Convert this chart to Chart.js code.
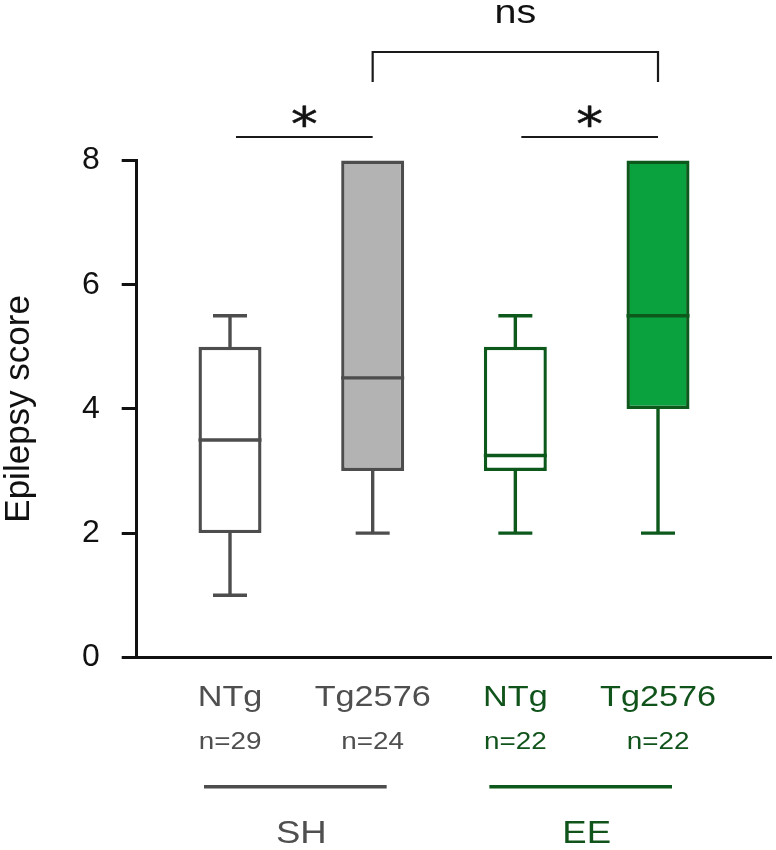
<!DOCTYPE html>
<html>
<head>
<meta charset="utf-8">
<script src="https://cdn.jsdelivr.net/npm/chart.js@4.4.1/dist/chart.umd.min.js"></script>
<style>
  html, body { margin: 0; padding: 0; background: #fff; }
  #wrap { width: 776px; height: 850px; }
</style>
</head>
<body>
<div id="wrap"><canvas id="c" width="776" height="850"></canvas></div>
<script>
// groups, left to right
var genotypes = ['NTg', 'Tg2576', 'NTg', 'Tg2576'];
var housing = ['SH', 'SH', 'EE', 'EE'];
var nCounts = [29, 24, 22, 22];

// box plot values (epilepsy score)
var whiskerLow = [1, 2, 2, 2];
var q1 = [2, 3, 3, 4];
var median = [3.5, 4.5, 3.25, 5.5];
var q3 = [5, 8, 5, 8];
var whiskerHigh = [5.5, 8, 5.5, 8];

var yTicks = [0, 2, 4, 6, 8];

// comparisons: [from box, to box, label]
var pairTests = [[0, 1, '*'], [2, 3, '*']];
var bracketTest = [1, 3, 'ns'];

var housingStyle = {
  SH: { line: '#4d4d4d', text: '#4f4f4f' },
  EE: { line: '#0d591c', text: '#11541b' }
};
var boxFill = ['#ffffff', '#b3b3b3', '#ffffff', '#09a23f'];

var FONT = '"Liberation Sans", Arial, Helvetica, sans-serif';
var STRETCH = 1.16; // labels in the figure are a bit wide
var LW = 3.4;

function wideText(ctx, text, x, y, size, color, family, heavy) {
  ctx.save();
  ctx.font = size + 'px ' + (family || FONT);
  ctx.fillStyle = color;
  ctx.textAlign = 'center';
  ctx.textBaseline = 'alphabetic';
  ctx.translate(x, y);
  ctx.scale(STRETCH, 1);
  ctx.fillText(text, 0, 0);
  if (heavy) {
    ctx.strokeStyle = color;
    ctx.lineWidth = heavy;
    ctx.lineJoin = 'round';
    ctx.strokeText(text, 0, 0);
  }
  ctx.restore();
}

function seg(ctx, x1, y1, x2, y2) {
  ctx.beginPath();
  ctx.moveTo(x1, y1);
  ctx.lineTo(x2, y2);
  ctx.stroke();
}

// whiskers, caps and medians on top of the bars
var boxParts = {
  id: 'boxParts',
  afterDatasetsDraw: function(chart) {
    var ctx = chart.ctx, ys = chart.scales.y;
    var meta = chart.getDatasetMeta(0);
    ctx.save();
    ctx.lineWidth = LW;
    for (var i = 0; i < meta.data.length; i++) {
      var bar = meta.data[i];
      var cx = bar.x, half = bar.width / 2, cap = 17;
      ctx.strokeStyle = housingStyle[housing[i]].line;
      var ym = ys.getPixelForValue(median[i]);
      seg(ctx, cx - half, ym, cx + half, ym);
      if (whiskerHigh[i] > q3[i]) {
        var yt = ys.getPixelForValue(whiskerHigh[i]);
        seg(ctx, cx, ys.getPixelForValue(q3[i]) + 1.5, cx, yt);
        seg(ctx, cx - cap, yt, cx + cap, yt);
      }
      if (whiskerLow[i] < q1[i]) {
        var yb = ys.getPixelForValue(whiskerLow[i]);
        seg(ctx, cx, ys.getPixelForValue(q1[i]) - 1.5, cx, yb);
        seg(ctx, cx - cap, yb, cx + cap, yb);
      }
    }
    ctx.restore();
  }
};

// group labels under the axis and significance marks above
var annotations = {
  id: 'annotations',
  afterDraw: function(chart) {
    var ctx = chart.ctx, xs = chart.scales.x, area = chart.chartArea;
    var px = function(i) { return xs.getPixelForValue(i + 1); };
    var i;

    for (i = 0; i < genotypes.length; i++) {
      var st = housingStyle[housing[i]];
      wideText(ctx, genotypes[i], px(i), area.bottom + 48.7, 29.5, st.text);
      wideText(ctx, 'n=' + nCounts[i], px(i), area.bottom + 91.7, 24, st.text);
    }

    // housing bars: SH / EE
    var seen = [];
    for (i = 0; i < housing.length; i++) {
      if (seen.indexOf(housing[i]) >= 0) continue;
      seen.push(housing[i]);
      var last = housing.lastIndexOf(housing[i]);
      var hs = housingStyle[housing[i]];
      ctx.save();
      ctx.strokeStyle = hs.line;
      ctx.lineWidth = LW;
      var gy = area.bottom + 129.4;
      seg(ctx, px(i) - 26, gy, px(last) + 14, gy);
      ctx.restore();
      wideText(ctx, housing[i], (px(i) + px(last)) / 2, area.bottom + 185.7, 31.5, hs.text);
    }

    ctx.save();
    ctx.strokeStyle = '#1a1a1a';
    ctx.lineWidth = 2.2;
    for (i = 0; i < pairTests.length; i++) {
      var a = px(pairTests[i][0]) + 6, b = px(pairTests[i][1]);
      var ly = area.top - 23.5;
      seg(ctx, a, ly, b, ly);
      wideText(ctx, pairTests[i][2], (a + b) / 2, area.top - 21, 46, '#111', '"DejaVu Sans", sans-serif', 0.5);
    }
    var ba = px(bracketTest[0]), bb = px(bracketTest[1]);
    var top = area.top - 108.5, foot = area.top - 78.5;
    ctx.beginPath();
    ctx.moveTo(ba, foot);
    ctx.lineTo(ba, top);
    ctx.lineTo(bb, top);
    ctx.lineTo(bb, foot);
    ctx.stroke();
    ctx.restore();
    wideText(ctx, bracketTest[2], (ba + bb) / 2, area.top - 137.5, 34, '#111');
  }
};

var boxData = genotypes.map(function(g, i) {
  return { x: i + 1, y: [q1[i], q3[i]] };
});

new Chart(document.getElementById('c'), {
  type: 'bar',
  data: {
    datasets: [{
      data: boxData,
      backgroundColor: boxFill,
      borderColor: housing.map(function(h) { return housingStyle[h].line; }),
      borderWidth: LW,
      borderSkipped: false,
      barThickness: 63,
      inflateAmount: 0,
      clip: false
    }]
  },
  options: {
    responsive: false,
    animation: false,
    layout: { padding: { left: 0, right: 5, top: 160.5, bottom: 192.7 } },
    plugins: { legend: { display: false }, tooltip: { enabled: false } },
    scales: {
      x: {
        type: 'linear',
        min: 0.346,
        max: 4.792,
        offset: false,
        ticks: { display: false },
        grid: { display: true, drawOnChartArea: false, drawTicks: false },
        border: { display: true, color: '#111', width: 3 },
        afterFit: function(s) { s.height = 0; }
      },
      y: {
        min: 0,
        max: 8,
        afterBuildTicks: function(s) {
          s.ticks = yTicks.map(function(v) { return { value: v }; });
        },
        ticks: {
          color: '#111',
          padding: 22,
          font: { family: FONT, size: 32 }
        },
        grid: {
          drawOnChartArea: false,
          drawTicks: true,
          tickLength: 15,
          tickColor: '#111',
          tickWidth: 3
        },
        border: { display: true, color: '#111', width: 3 },
        title: {
          display: true,
          text: 'Epilepsy score',
          color: '#111',
          font: { family: FONT, size: 35, lineHeight: 1.1 },
          padding: { top: 0, bottom: 0 }
        },
        afterFit: function(s) { s.width = 136.7; }
      }
    }
  },
  plugins: [boxParts, annotations]
});
</script>
</body>
</html>
